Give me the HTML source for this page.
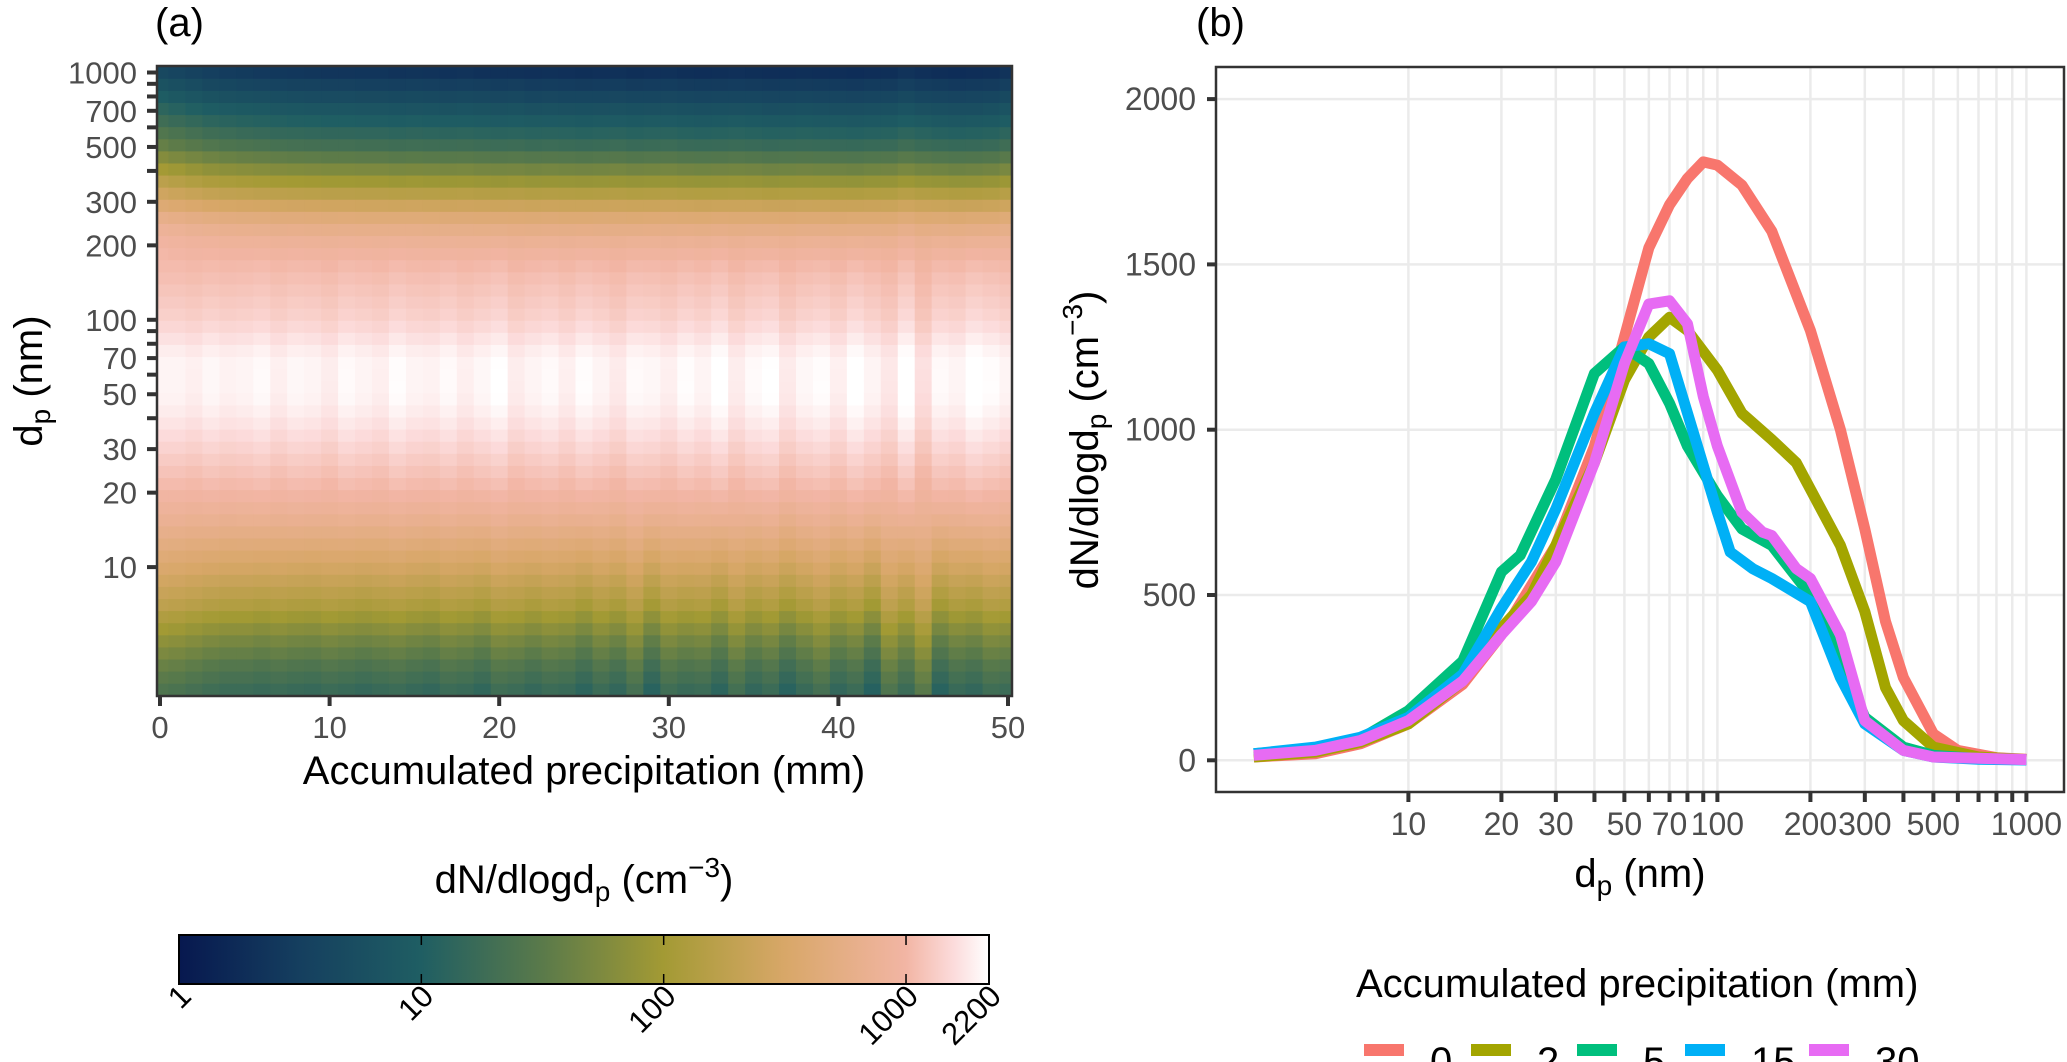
<!DOCTYPE html>
<html><head><meta charset="utf-8">
<style>
html,body{margin:0;padding:0;background:#fff;}
svg{display:block;font-family:"Liberation Sans",Arial,sans-serif;}
</style></head>
<body>
<svg id="fig" width="2067" height="1062" viewBox="0 0 2067 1062" xmlns="http://www.w3.org/2000/svg">
<g id="panelA"></g>
<g id="cbar"></g>
<g id="panelB"></g>
</svg>
<script>
// ---------- Panel (a) data ----------
const heatProfileD = [3, 4, 5, 7, 10, 15, 20, 30, 40, 50, 70, 100, 150, 200, 250, 300, 350, 400, 500, 700, 1000, 1100];
const heatProfileLogN = [1.35, 1.6, 1.85, 2.25, 2.55, 2.85, 3.0, 3.15, 3.25, 3.3, 3.3, 3.15, 3.05, 3.0, 2.85, 2.55, 2.3, 2.05, 1.6, 1.15, 0.65, 0.55];
const precipCols = [0,1,2,3,4,5,6,7,8,9,10,11,12,13,14,15,16,17,18,19,20,21,22,23,24,25,26,27,28,29,30,31,32,33,34,35,36,37,38,39,40,41,42,43,44,45,46,47,48,49,50];
const largeShift = [0,-0.05,-0.1,-0.15,-0.18,-0.2,-0.22,-0.24,-0.25,-0.26,-0.27,-0.27,-0.28,-0.28,-0.3,-0.29,-0.3,-0.31,-0.3,-0.32,-0.33,-0.32,-0.34,-0.33,-0.34,-0.35,-0.34,-0.33,-0.35,-0.34,-0.33,-0.35,-0.36,-0.35,-0.34,-0.35,-0.37,-0.36,-0.35,-0.36,-0.37,-0.38,-0.36,-0.35,-0.3,-0.34,-0.36,-0.38,-0.37,-0.35,-0.3];
const smallShift = [0,-0.02,-0.05,-0.08,-0.1,-0.1,-0.12,-0.1,-0.12,-0.13,-0.1,-0.12,-0.14,-0.12,-0.1,-0.13,-0.15,-0.1,-0.12,-0.16,-0.08,-0.1,-0.14,-0.1,-0.12,-0.18,-0.1,-0.15,-0.05,-0.2,-0.08,-0.12,-0.1,-0.18,-0.06,-0.15,-0.1,-0.2,-0.12,-0.05,-0.15,-0.1,-0.22,0.0,-0.1,0.05,-0.2,-0.12,-0.15,-0.08,-0.1];
const midShift = [0,0.0,-0.02,0.01,-0.01,0.0,0.02,-0.02,0.01,0.0,-0.03,0.02,0.0,-0.02,0.03,0.0,-0.01,0.02,-0.02,0.01,0.04,-0.03,0.0,0.02,-0.02,0.03,0.0,-0.04,0.02,0.01,-0.02,0.03,0.0,0.05,-0.03,0.02,0.04,-0.04,0.01,0.03,-0.02,0.05,0.0,-0.05,0.06,-0.08,0.02,0.0,0.06,0.03,0.0];
const heatXTicks = [0,10,20,30,40,50];
const heatYTicks = [10,20,30,50,70,100,200,300,500,700,1000];
const heatYMinor = [40,60,80,90,400,600,800,900];
// ---------- Colorbar ----------
const cbarTicks = [1,10,100,1000,2200];
const colorStops = [[0,'#07184f'],[0.5,'#153f5f'],[1,'#1f5e63'],[1.5,'#5a7a4a'],[2,'#a39a34'],[2.5,'#d8a768'],[3,'#f2b5a4'],[3.2,'#fcdcdc'],[3.343,'#ffffff']];
// ---------- Panel (b) data ----------
const seriesNames = ['0','2','5','15','30'];
const seriesColors = ['#F8766D','#A3A500','#00BF7D','#00B0F6','#E76BF3'];
const dRed = [3.16,5,7,10,15,20,30,40,50,60,70,80,90,100,120,150,200,250,300,350,400,500,600,800,1000];
const vRed = [10,20,50,110,230,380,650,950,1280,1550,1680,1760,1810,1800,1740,1600,1300,1000,700,420,250,80,30,8,3];
const dOlive = [3.16,5,7,10,15,20,25,30,40,50,60,70,80,100,120,150,180,200,250,300,350,400,500,700,1000];
const vOlive = [10,25,55,110,240,400,500,650,900,1150,1280,1340,1300,1180,1050,970,900,820,650,450,220,120,40,10,2];
const dGreen = [3.16,5,7,10,15,20,23,30,40,50,60,70,80,100,120,150,200,250,300,400,500,700,1000];
const vGreen = [20,35,65,150,300,570,620,850,1170,1250,1200,1080,950,800,700,650,500,300,130,40,15,5,2];
const dBlue = [3.16,5,7,10,15,20,25,30,40,50,60,70,80,100,110,130,150,200,250,300,400,500,700,1000];
const vBlue = [20,40,70,130,260,460,600,760,1050,1250,1260,1230,1050,750,630,580,550,480,250,110,30,10,3,1];
const dPink = [3.16,5,7,10,15,20,25,30,40,50,60,70,80,90,100,120,140,150,180,200,250,300,400,500,1000];
const vPink = [15,30,60,120,240,380,480,600,900,1200,1380,1390,1320,1100,950,750,690,680,580,550,380,120,30,10,2];
const bYTicks = [0,500,1000,1500,2000];
const bXTicks = [10,20,30,40,50,60,70,80,90,100,200,300,400,500,600,700,800,900,1000];
const bXLabels = [10,20,30,50,70,100,200,300,500,1000];

const NS='http://www.w3.org/2000/svg';
function mk(parent,tag,attrs,text){const e=document.createElementNS(NS,tag);for(const k in attrs)e.setAttribute(k,attrs[k]);if(text!==undefined)e.textContent=text;parent.appendChild(e);return e;}
function hex2rgb(h){return [parseInt(h.substr(1,2),16),parseInt(h.substr(3,2),16),parseInt(h.substr(5,2),16)];}
function colorAt(v){
  if(v<=colorStops[0][0])return colorStops[0][1];
  for(let i=1;i<colorStops.length;i++){
    if(v<=colorStops[i][0]){const a=colorStops[i-1],b=colorStops[i];const t=(v-a[0])/(b[0]-a[0]);
      const c1=hex2rgb(a[1]),c2=hex2rgb(b[1]);
      return 'rgb('+c1.map((c,j)=>Math.round(c+(c2[j]-c)*t)).join(',')+')';}
  }
  return colorStops[colorStops.length-1][1];
}
function interpProfile(ld){
  const L=heatProfileD.map(Math.log10);
  if(ld<=L[0])return heatProfileLogN[0];
  for(let i=1;i<L.length;i++){if(ld<=L[i]){const t=(ld-L[i-1])/(L[i]-L[i-1]);return heatProfileLogN[i-1]+t*(heatProfileLogN[i]-heatProfileLogN[i-1]);}}
  return heatProfileLogN[heatProfileLogN.length-1];
}

// ---------- Panel (a) ----------
const A=document.getElementById('panelA');
const ax0=157, ax1=1012, ay0=66, ay1=696;
const hx=p=>160+p*16.96;
const hy=d=>72.5+(3-Math.log10(d))*247.3;
const logTop=3.026, logBot=0.482, nRows=52;
const rstep=(logTop-logBot)/nRows;
const cells=mk(A,'g',{});


for(let c=0;c<precipCols.length;c++){
  const xa=Math.max(ax0,hx(precipCols[c]-0.5)), xb=Math.min(ax1,hx(precipCols[c]+0.5));
  for(let r=0;r<nRows;r++){
    const lA=logBot+r*rstep, lB=lA+rstep, lm=(lA+lB)/2;
    let v=interpProfile(lm);
    const wL=Math.min(1,Math.max(0,(lm-2.2)/0.4));
    const wS=Math.min(1,Math.max(0,(1.3-lm)/0.6));
    const wM=1-Math.abs(lm-1.7)/0.8;
    v+=largeShift[c]*wL+smallShift[c]*wS*1.6+midShift[c]*Math.max(0,wM)*1.2;
    const y1=hy(Math.pow(10,lB)), y2=hy(Math.pow(10,lA));
    const rc=mk(cells,'rect',{x:xa.toFixed(2),y:Math.max(ay0,y1).toFixed(2),width:(xb-xa+0.6).toFixed(2),height:(Math.min(ay1,y2)-Math.max(ay0,y1)+0.6).toFixed(2),fill:colorAt(v)});
    
    
  }
}
mk(A,'rect',{x:ax0,y:ay0,width:ax1-ax0,height:ay1-ay0,fill:'none',stroke:'#333',"stroke-width":2.5,});
heatXTicks.forEach(t=>{
  mk(A,'line',{x1:hx(t),x2:hx(t),y1:ay1,y2:ay1+10,stroke:'#333','stroke-width':4});
  const tx=mk(A,'text',{x:hx(t),y:738,'font-size':31,fill:'#4d4d4d','text-anchor':'middle'},String(t));
  
  
});
heatYTicks.forEach(t=>{
  mk(A,'line',{x1:ax0-10,x2:ax0,y1:hy(t),y2:hy(t),stroke:'#333','stroke-width':4});
  const tx=mk(A,'text',{x:137,y:hy(t)+11,'font-size':31,fill:'#4d4d4d','text-anchor':'end'},String(t));
  
  
});
heatYMinor.forEach(t=>{mk(A,'line',{x1:ax0-10,x2:ax0,y1:hy(t),y2:hy(t),stroke:'#333','stroke-width':4});});
mk(A,'text',{x:584,y:784,'font-size':40,fill:'#000','text-anchor':'middle',},'Accumulated precipitation (mm)');
const yt=mk(A,'text',{x:0,y:0,'font-size':40,fill:'#000','text-anchor':'middle',transform:'translate(42,381) rotate(-90)',});
yt.innerHTML='d<tspan font-size="28" dy="8">p</tspan><tspan dy="-8"> (nm)</tspan>';
mk(A,'text',{x:155,y:36,'font-size':40,fill:'#000',},'(a)');

// ---------- Colorbar ----------
const C=document.getElementById('cbar');
const cx0=179,cx1=989,cy0=935,cy1=984;
const cx=v=>cx0+Math.log10(v)/Math.log10(2200)*(cx1-cx0);
const defs=mk(C,'defs',{});
const lg=mk(defs,'linearGradient',{id:'cg',x1:0,x2:1,y1:0,y2:0});
colorStops.forEach(s=>mk(lg,'stop',{offset:(s[0]/3.343).toFixed(4),'stop-color':s[1]}));
mk(C,'rect',{x:cx0,y:cy0,width:cx1-cx0,height:cy1-cy0,fill:'url(#cg)',stroke:'#000','stroke-width':2,});
cbarTicks.forEach(t=>{
  const x=cx(t);
  if(t!==1&&t!==2200){mk(C,'line',{x1:x,x2:x,y1:cy0,y2:cy0+10,stroke:'#000','stroke-width':1.5});mk(C,'line',{x1:x,x2:x,y1:cy1-10,y2:cy1,stroke:'#000','stroke-width':1.5});}
  const tx=mk(C,'text',{x:0,y:0,'font-size':31,fill:'#000','text-anchor':'end',transform:'translate('+(x+14)+','+(cy1+14)+') rotate(-45)'},String(t));
  
  
});
const ct=mk(C,'text',{x:584,y:893,'font-size':40,fill:'#000','text-anchor':'middle',});
ct.innerHTML='dN/dlogd<tspan font-size="28" dy="8">p</tspan><tspan dy="-8"> (cm</tspan><tspan font-size="28" dy="-16">−3</tspan><tspan dy="16">)</tspan>';

// ---------- Panel (b) ----------
const B=document.getElementById('panelB');
const bx0=1216,bx1=2064,by0=67,by1=792;
const bx=d=>1408.4+(Math.log10(d)-1)*309;
const by=v=>760.3-v*0.3306;
mk(B,'rect',{x:bx0,y:by0,width:bx1-bx0,height:by1-by0,fill:'#fff',});
bYTicks.forEach(t=>{mk(B,'line',{x1:bx0,x2:bx1,y1:by(t),y2:by(t),stroke:'#ebebeb','stroke-width':2.5});});
bXTicks.forEach(t=>{mk(B,'line',{x1:bx(t),x2:bx(t),y1:by0,y2:by1,stroke:'#ebebeb','stroke-width':2.5});});
const allD=[dRed,dOlive,dGreen,dBlue,dPink], allV=[vRed,vOlive,vGreen,vBlue,vPink];
allD.forEach((ds,i)=>{
  const pts=ds.map((d,j)=>bx(d).toFixed(1)+','+by(allV[i][j]).toFixed(1)).join(' ');
  const pl=mk(B,'polyline',{points:pts,fill:'none',stroke:seriesColors[i],'stroke-width':11,'stroke-linejoin':'round'});
  
  
});
mk(B,'rect',{x:bx0,y:by0,width:bx1-bx0,height:by1-by0,fill:'none',stroke:'#333','stroke-width':2.5,});
bYTicks.forEach(t=>{
  mk(B,'line',{x1:bx0-9,x2:bx0,y1:by(t),y2:by(t),stroke:'#333','stroke-width':4});
  const tx=mk(B,'text',{x:1196,y:by(t)+11,'font-size':32,fill:'#4d4d4d','text-anchor':'end'},String(t));
  
  
});
bXTicks.forEach(t=>{mk(B,'line',{x1:bx(t),x2:bx(t),y1:by1,y2:by1+10,stroke:'#333','stroke-width':4});});
bXLabels.forEach(t=>{
  const tx=mk(B,'text',{x:bx(t),y:835,'font-size':32,fill:'#4d4d4d','text-anchor':'middle'},String(t));
  
  
});
const bxt=mk(B,'text',{x:1640,y:887,'font-size':40,fill:'#000','text-anchor':'middle',});
bxt.innerHTML='d<tspan font-size="28" dy="8">p</tspan><tspan dy="-8"> (nm)</tspan>';
const byt=mk(B,'text',{x:0,y:0,'font-size':40,fill:'#000','text-anchor':'middle',transform:'translate(1098,440) rotate(-90)',});
byt.innerHTML='dN/dlogd<tspan font-size="28" dy="8">p</tspan><tspan dy="-8"> (cm</tspan><tspan font-size="28" dy="-16">−3</tspan><tspan dy="16">)</tspan>';
mk(B,'text',{x:1196,y:36,'font-size':40,fill:'#000',},'(b)');
// legend
mk(B,'text',{x:1356,y:997,'font-size':40,fill:'#000',},'Accumulated precipitation (mm)');
const keyX=[1364,1471,1577,1685,1809];
seriesNames.forEach((n,i)=>{
  const g=mk(B,'g',{});
  
  
  mk(g,'rect',{x:keyX[i],y:1044,width:40,height:12,fill:seriesColors[i]});
  mk(g,'text',{x:keyX[i]+66,y:1075,'font-size':40,fill:'#000'},n);
});
</script>
</body></html>
